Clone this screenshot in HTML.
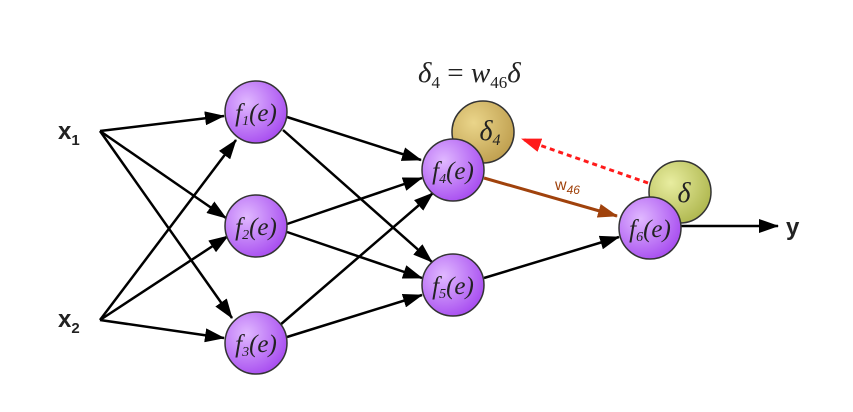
<!DOCTYPE html>
<html><head><style>body{margin:0;background:#fff}svg{display:block}</style></head><body>
<svg width="853" height="412" viewBox="0 0 853 412" xmlns="http://www.w3.org/2000/svg">
<defs>
<marker id="ak" viewBox="0 0 20 14" markerWidth="20" markerHeight="14" refX="19" refY="7" orient="auto" markerUnits="userSpaceOnUse"><path d="M0,0 L20,7 L0,14 z" fill="#000"/></marker>
<marker id="ab" viewBox="0 0 20 14" markerWidth="20" markerHeight="14" refX="19" refY="7" orient="auto" markerUnits="userSpaceOnUse"><path d="M0,0 L20,7 L0,14 z" fill="#a0420c"/></marker>
<marker id="ar" viewBox="0 0 20 14" markerWidth="20" markerHeight="14" refX="19" refY="7" orient="auto" markerUnits="userSpaceOnUse"><path d="M0,0 L20,7 L0,14 z" fill="#ff1a1a"/></marker>
<radialGradient id="p" cx="35%" cy="35%" r="70%"><stop offset="0" stop-color="#e0b8ff"/><stop offset="1" stop-color="#a84ef0"/></radialGradient>
<radialGradient id="y1" cx="35%" cy="35%" r="70%"><stop offset="0" stop-color="#ead58a"/><stop offset="1" stop-color="#c0a050"/></radialGradient>
<radialGradient id="y2" cx="35%" cy="35%" r="70%"><stop offset="0" stop-color="#e8eda0"/><stop offset="1" stop-color="#b0b850"/></radialGradient>
</defs>
<g stroke="#000" stroke-width="2.5" fill="none" marker-end="url(#ak)">
<line x1="100" y1="131" x2="224" y2="116"/>
<line x1="100" y1="131" x2="226" y2="218"/>
<line x1="100" y1="131" x2="232" y2="318"/>
<line x1="100" y1="320" x2="236" y2="140"/>
<line x1="100" y1="320" x2="228" y2="236"/>
<line x1="100" y1="320" x2="224" y2="338"/>
<line x1="287" y1="117" x2="421" y2="160"/>
<line x1="283" y1="130" x2="432" y2="262"/>
<line x1="287" y1="224" x2="422" y2="178"/>
<line x1="287" y1="232" x2="422" y2="278"/>
<line x1="280" y1="325" x2="433" y2="193"/>
<line x1="287" y1="337" x2="422" y2="295"/>
<line x1="484" y1="278" x2="619" y2="237"/>
<line x1="681" y1="226" x2="778" y2="226"/>
</g>
<line x1="484" y1="178" x2="617" y2="216" stroke="#a0420c" stroke-width="3" marker-end="url(#ab)"/>
<line x1="648" y1="183" x2="522" y2="139" stroke="#ff1a1a" stroke-width="3" stroke-dasharray="5,4" marker-end="url(#ar)"/>
<circle cx="483" cy="132" r="31" fill="url(#y1)" stroke="#333" stroke-width="1.5"/>
<circle cx="680" cy="192" r="31" fill="url(#y2)" stroke="#333" stroke-width="1.5"/>
<g stroke="#333" stroke-width="1.5" fill="url(#p)">
<circle cx="256" cy="112" r="31"/><circle cx="256" cy="226" r="31"/><circle cx="256" cy="343" r="31"/>
<circle cx="453" cy="170" r="31"/><circle cx="453" cy="285" r="31"/><circle cx="650" cy="228" r="31"/>
</g>
<g font-family="Liberation Serif,serif" font-style="italic" font-size="25" fill="#222" text-anchor="middle">
<text x="256" y="121">f<tspan font-size="14" dy="4">1</tspan><tspan dy="-4">(e)</tspan></text>
<text x="256" y="235">f<tspan font-size="14" dy="4">2</tspan><tspan dy="-4">(e)</tspan></text>
<text x="256" y="352">f<tspan font-size="14" dy="4">3</tspan><tspan dy="-4">(e)</tspan></text>
<text x="453" y="179">f<tspan font-size="14" dy="4">4</tspan><tspan dy="-4">(e)</tspan></text>
<text x="453" y="294">f<tspan font-size="14" dy="4">5</tspan><tspan dy="-4">(e)</tspan></text>
<text x="650" y="237">f<tspan font-size="14" dy="4">6</tspan><tspan dy="-4">(e)</tspan></text>
<text x="490" y="140" font-size="28">δ<tspan font-size="16" dy="5">4</tspan></text>
<text x="684" y="202" font-size="28">δ</text>
<text x="418" y="82" font-size="29" text-anchor="start">δ<tspan font-size="17" font-style="normal" dy="6">4</tspan><tspan dy="-6" font-style="normal"> = </tspan>w<tspan font-size="17" font-style="normal" dy="6">46</tspan><tspan dy="-6">δ</tspan></text>
</g>
<g font-family="Liberation Sans,sans-serif" font-weight="bold" fill="#222">
<text x="58" y="139" font-size="24">x<tspan font-size="15" dy="6">1</tspan></text>
<text x="58" y="327" font-size="24">x<tspan font-size="15" dy="6">2</tspan></text>
<text x="786" y="235" font-size="24">y</text>
</g>
<text x="555" y="190" font-family="Liberation Sans,sans-serif" font-size="16" fill="#a0420c">w<tspan font-size="12" font-style="italic" dy="4">46</tspan></text>
</svg>
</body></html>
